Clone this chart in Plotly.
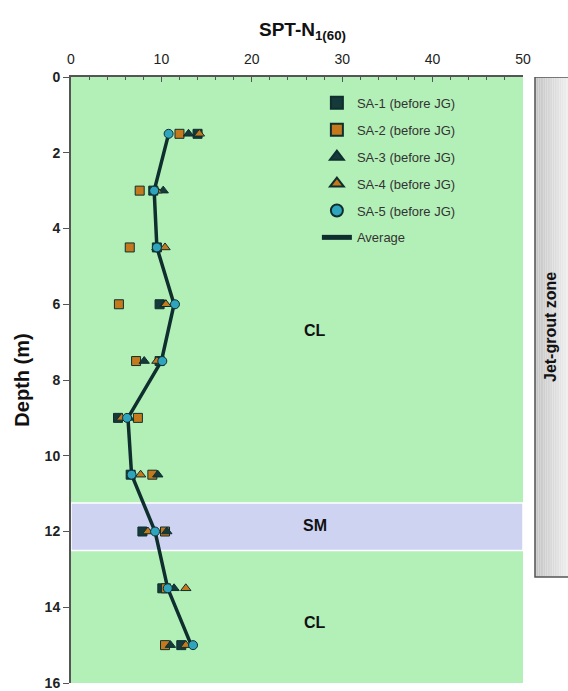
import plotly.graph_objects as go

depth = [1.5, 3.0, 4.5, 6.0, 7.5, 9.0, 10.5, 12.0, 13.5, 15.0]
sa1 = [14.0, 9.1, 9.5, 9.8, 9.8, 5.2, 6.6, 7.9, 10.1, 12.2]
sa2 = [12.0, 7.6, 6.5, 5.3, 7.2, 7.4, 9.0, 10.4, 10.5, 10.4]
sa3 = [13.0, 10.2, 9.5, 10.4, 8.1, 6.4, 9.6, 10.6, 11.4, 11.0]
sa4 = [14.2, 9.5, 10.4, 10.5, 9.5, 5.6, 7.7, 8.5, 12.7, 12.7]
sa5 = [10.8, 9.2, 9.5, 11.5, 10.1, 6.2, 6.7, 9.3, 10.7, 13.5]
avg = [10.8, 9.2, 9.5, 11.4, 10.0, 6.3, 6.7, 9.3, 10.7, 13.3]

names = ["SA-1 (before JG)", "SA-2 (before JG)", "SA-3 (before JG)",
         "SA-4 (before JG)", "SA-5 (before JG)"]
series = [sa1, sa2, sa3, sa4, sa5]
symbols = ["square", "square", "triangle-up", "triangle-up", "circle"]
colors = ["#163a3a", "#c47a1c", "#163a3a", "#c47a1c", "#2fa4bd"]

dark = "#0f2f2f"
fig = go.Figure()

fig.add_trace(go.Scatter(x=avg, y=depth, mode="lines", name="Average",
                         line=dict(color=dark, width=3.5), showlegend=False))
for i, (nm, vals, sym, col) in enumerate(zip(names, series, symbols, colors)):
    fig.add_trace(go.Scatter(x=vals, y=depth, mode="markers", name=nm,
                             legendgroup=f"g{i}",
                             marker=dict(symbol=sym, size=9, color=col,
                                         line=dict(color=dark, width=1))))
fig.add_trace(go.Scatter(x=[None], y=[None], mode="lines", name="Average",
                         legendgroup="gavg", line=dict(color=dark, width=3.5)))

shapes = []
shapes.append(dict(type="rect", xref="paper", yref="y", x0=0, x1=1, y0=11.25, y1=12.5,
                   fillcolor="#cdd3f1", line=dict(color="white", width=1.5), layer="below"))
x0p, x1p = 1.0265, 1.12
n = 24
for i in range(n):
    t = i / (n - 1)
    g = int(196 + (250 - 196) * t)
    shapes.append(dict(type="rect", xref="paper", yref="y",
                       x0=x0p + (x1p - x0p) * i / n, x1=x0p + (x1p - x0p) * (i + 1) / n,
                       y0=0, y1=13.2, fillcolor=f"rgb({g},{g},{g})",
                       line=dict(width=0), layer="below"))
shapes.append(dict(type="rect", xref="paper", yref="y", x0=x0p, x1=1.2, y0=0, y1=13.2,
                   fillcolor="rgba(0,0,0,0)", line=dict(color="#555555", width=1.5)))

annotations = [
    dict(x=27, y=6.7, text="<b>CL</b>", showarrow=False, font=dict(size=16, color="#111")),
    dict(x=27, y=11.85, text="<b>SM</b>", showarrow=False, font=dict(size=16, color="#111")),
    dict(x=27, y=14.4, text="<b>CL</b>", showarrow=False, font=dict(size=16, color="#111")),
    dict(xref="paper", yref="y", x=1.062, y=6.6, xanchor="center", yanchor="middle",
         text="<b>Jet-grout zone</b>", textangle=-90,
         showarrow=False, font=dict(size=16, color="#111")),
    dict(xref="paper", yref="paper", x=0.513, y=1.0, yshift=46, yanchor="middle",
         xanchor="center", text="<b>SPT-N<sub>1(60)</sub></b>", showarrow=False,
         font=dict(size=19, color="#111")),
]

fig.update_layout(
    width=568, height=691,
    margin=dict(l=71, r=45, t=77, b=8),
    paper_bgcolor="white", plot_bgcolor="#b3f0b8",
    font=dict(family="Liberation Sans, Arial, sans-serif", color="#222"),
    shapes=shapes, annotations=annotations,
    legend=dict(x=0.544, y=0.982, xanchor="left", yanchor="top",
                bgcolor="rgba(0,0,0,0)", font=dict(size=13, color="#333"),
                itemsizing="constant", tracegroupgap=7),
    xaxis=dict(side="top", range=[0, 50], dtick=10, showgrid=False, zeroline=False,
               showline=True, linecolor="#555", linewidth=1.5, automargin=False,
               ticks="inside", ticklen=5, tickcolor="#555",
               minor=dict(dtick=2, ticks="inside", ticklen=3, tickcolor="#555"),
               ticklabelstandoff=6,
               tickfont=dict(size=14, color="#222")),
    yaxis=dict(range=[16, 0], dtick=2, showgrid=False, zeroline=False,
               showline=True, linecolor="#555", linewidth=2, automargin=False,
               ticks="outside", ticklen=6, tickcolor="#555",
               tickfont=dict(size=14, color="#222"), tickprefix="<b>", ticksuffix="</b>",
               title=dict(text="<b>Depth (m)</b>", font=dict(size=20, color="#111"), standoff=10)),
)

fig.write_html("out.html", config={"displayModeBar": False},
               post_script="document.body.style.margin='0';")
